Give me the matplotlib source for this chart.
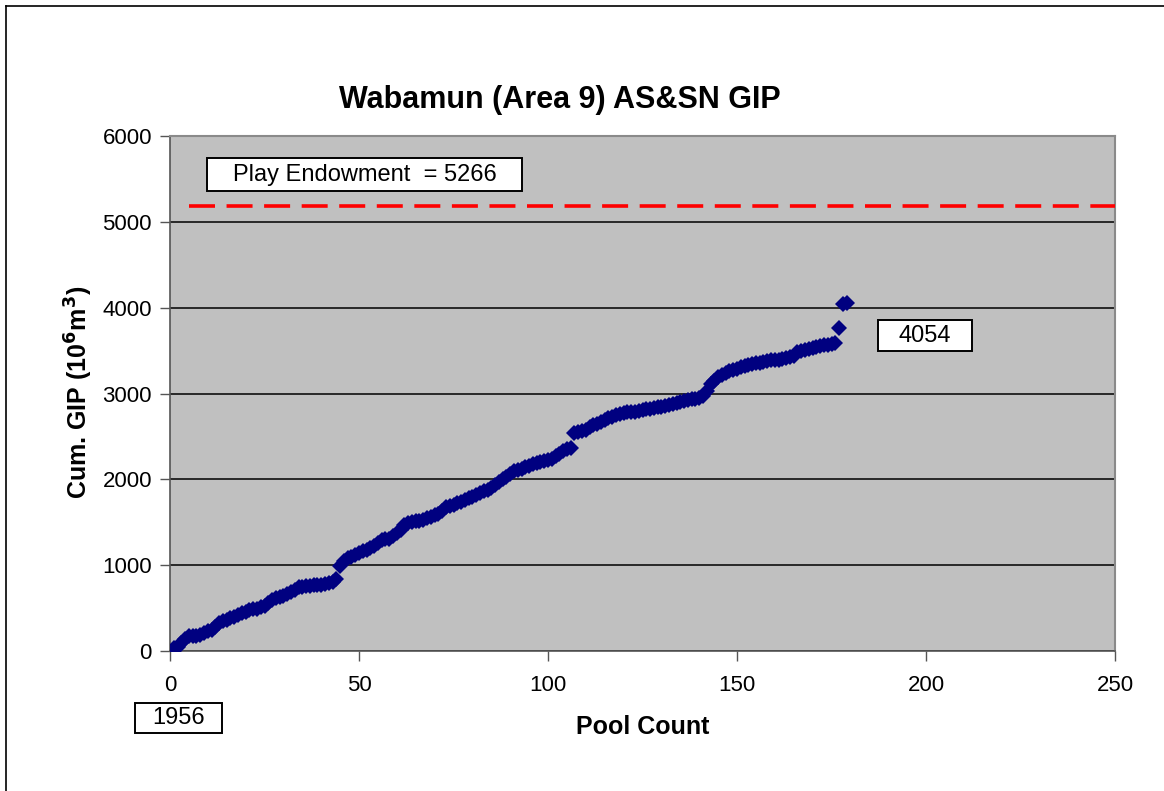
import matplotlib
matplotlib.use("Agg")
import matplotlib.pyplot as plt
from matplotlib.lines import Line2D
from matplotlib.patches import Rectangle

plt.rcParams['font.family'] = ['Liberation Sans', 'DejaVu Sans']

pool_count = list(range(1, 180))
cum_gip = [
    30, 50, 90, 140, 175, 180, 175, 190, 210, 230,
    250, 280, 330, 345, 360, 380, 395, 420, 440, 455,
    475, 485, 495, 510, 530, 560, 590, 615, 630, 640,
    660, 690, 710, 740, 750, 755, 760, 765, 768, 772,
    780, 790, 800, 840, 990, 1050, 1080, 1100, 1120, 1140,
    1160, 1175, 1195, 1220, 1260, 1290, 1300, 1310, 1340, 1370,
    1410, 1470, 1490, 1500, 1510, 1520, 1530, 1545, 1560, 1580,
    1600, 1630, 1680, 1690, 1700, 1720, 1740, 1760, 1780, 1800,
    1820, 1845, 1865, 1880, 1900, 1930, 1970, 2000, 2030, 2060,
    2100, 2110, 2120, 2140, 2160, 2180, 2195, 2200, 2210, 2220,
    2240, 2270, 2300, 2330, 2350, 2360, 2540, 2550, 2560, 2580,
    2610, 2630, 2650, 2670, 2690, 2710, 2730, 2750, 2760, 2770,
    2780, 2785, 2790, 2800, 2805, 2815, 2825, 2835, 2840, 2845,
    2855, 2865, 2875, 2890, 2905, 2915, 2925, 2935, 2940, 2945,
    2970, 3030, 3110, 3150, 3190, 3220, 3240, 3260, 3275, 3290,
    3310, 3320, 3330, 3340, 3350, 3360, 3370, 3380, 3385, 3390,
    3395, 3405, 3415, 3425, 3440, 3480, 3500, 3510, 3520, 3530,
    3540, 3550, 3560, 3570, 3580, 3590, 3760, 4040, 4054,
]
endowment_x = [5, 250]
endowment_y = [5190, 5190]

x_ticks = [0, 50, 100, 150, 200, 250]
y_ticks = [0, 1000, 2000, 3000, 4000, 5000, 6000]

title = "Wabamun (Area 9) AS&SN GIP"
xlabel = "Pool Count"
ylabel = r"Cum. GIP (10$^\mathbf{6}$m$^\mathbf{3}$)"
endowment_text = "Play Endowment  = 5266"
final_text = "4054"
start_text = "1956"

W, H = 1164, 791
fig = plt.figure(figsize=(W / 100, H / 100), dpi=100)
fig.patch.set_facecolor('white')

ax = fig.add_axes([170 / W, 1 - 651 / H, (1115 - 170) / W, (651 - 136) / H])
ax.set_facecolor('#C0C0C0')
ax.set_xlim(0, 250)
ax.set_ylim(0, 6000)
ax.set_xticks(x_ticks)
ax.set_yticks(y_ticks)
ax.tick_params(axis='both', direction='out', length=7, width=1, colors='#555555',
               labelcolor='black', labelsize=16, pad=6)
ax.tick_params(axis='x', pad=10)
ax.yaxis.grid(True, color='black', linewidth=1.1)
ax.set_axisbelow(True)
for s in ['left', 'bottom']:
    ax.spines[s].set_color('#555555')
    ax.spines[s].set_linewidth(1.2)
for s in ['top', 'right']:
    ax.spines[s].set_color('#8a8a8a')
    ax.spines[s].set_linewidth(1.5)

ax.plot(endowment_x, endowment_y, color='#FF0000', linewidth=2.6,
        linestyle=(0, (7.2, 3.2)), zorder=3)
ax.plot(pool_count, cum_gip, linestyle='none', marker='D', markersize=8,
        color='#000080', markeredgewidth=0, zorder=4)

fig.text(560 / W, 1 - 100 / H, title, ha='center', va='center',
         fontsize=22, fontweight='bold')
fig.text(643 / W, 1 - 727 / H, xlabel, ha='center', va='center',
         fontsize=18, fontweight='bold')
fig.text(79 / W, 1 - 392 / H, ylabel, ha='center', va='center',
         fontsize=18, fontweight='bold', rotation=90)


def boxed(x0, y0, x1, y1, text):
    fig.add_artist(Rectangle((x0 / W, 1 - y1 / H), (x1 - x0) / W, (y1 - y0) / H,
                             transform=fig.transFigure, facecolor='white',
                             edgecolor='black', linewidth=1.4, zorder=5))
    fig.text((x0 + x1) / 2 / W, 1 - (y0 + y1) / 2 / H, text, ha='center',
             va='center', fontsize=17, zorder=6)


boxed(207, 158, 522, 191, endowment_text)
boxed(878, 320, 972, 351, final_text)
boxed(135, 703, 222, 733, start_text)

fig.add_artist(Line2D([6 / W, 6 / W], [0, 1 - 6 / H], transform=fig.transFigure,
                      color='black', linewidth=1.2))
fig.add_artist(Line2D([6 / W, 1], [1 - 6 / H, 1 - 6 / H], transform=fig.transFigure,
                      color='black', linewidth=1.2))

fig.savefig('out.png', dpi=100)
